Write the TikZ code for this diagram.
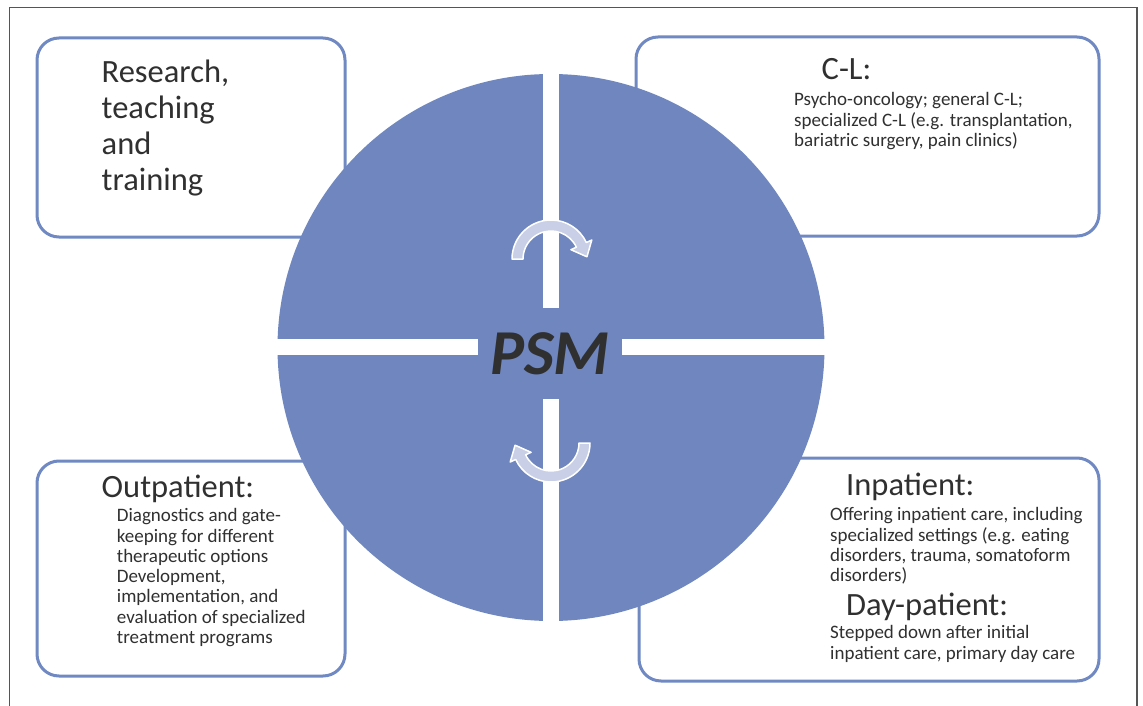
\documentclass[tikz,border=0pt]{standalone}
\usepackage{fontspec}
\setmainfont{Carlito}
\definecolor{circblue}{HTML}{6F86BF}
\definecolor{boxblue}{HTML}{7089C3}
\definecolor{arrowfill}{HTML}{C9CFE6}
\definecolor{txt}{HTML}{303030}
\definecolor{framegray}{HTML}{555555}
\begin{document}
\begin{tikzpicture}[x=1pt,y=-1pt,
  panel/.style={draw=boxblue, line width=3pt, rounded corners=22pt, fill=white, inner sep=0pt, outer sep=0pt},
  head/.style={font=\fontsize{32.5}{36}\selectfont, text=txt, align=left, anchor=base west, inner sep=0pt},
  body/.style={font=\fontsize{19}{20.3}\selectfont, text=txt, align=left, anchor=base west, inner sep=0pt},
  cyc/.style={fill=arrowfill, draw=white, line width=1.5pt, line join=round}]

\useasboundingbox (0,0) rectangle (1143,706);
\fill[white] (0,0) rectangle (1143,706);
\draw[framegray, line width=1.3pt] (9.5,706) -- (9.5,7.5) -- (1137,7.5) -- (1137,706);

% panels
\node[panel, minimum width=308, minimum height=199] (rtt) at (191,137.5) {};
\node[panel, minimum width=463, minimum height=199] (cl) at (867.5,136.5) {};
\node[panel, minimum width=308, minimum height=215] (out) at (191,568.5) {};
\node[panel, minimum width=460, minimum height=223] (inp) at (869,569.5) {};

% central circle with cross
\node[circle, fill=circblue, minimum size=547, inner sep=0pt] (psmcirc) at (551,347.5) {};
\fill[white] (543.2,70) rectangle (558.8,308);
\fill[white] (543.2,399) rectangle (558.8,625);
\fill[white] (273,339.3) rectangle (478.3,355);
\fill[white] (621.7,339.3) rectangle (829,355);

\node[font=\fontsize{64}{72}\selectfont\bfseries\itshape, text=txt, anchor=base, inner sep=0pt] (psm) at (550,374) {PSM};

% cycle arrows
\filldraw[cyc] ([shift={(551,259)}]180:39) arc[start angle=180, end angle=335, radius=39]
  -- ([shift={(551,259)}]335:45) -- ([shift={(551,259)}]356.5:36)
  -- ([shift={(551,259)}]335:22) -- ([shift={(551,259)}]335:28)
  arc[start angle=335, end angle=180, radius=28] -- cycle;
\filldraw[cyc] ([shift={(551,443)}]0:39) arc[start angle=0, end angle=155, radius=39]
  -- ([shift={(551,443)}]155:45) -- ([shift={(551,443)}]176.5:36)
  -- ([shift={(551,443)}]155:22) -- ([shift={(551,443)}]155:28)
  arc[start angle=155, end angle=0, radius=28] -- cycle;

% texts (base anchor = baseline of the last line)
\node[head] (rtt-t) at (101.5,190) {Research,\\teaching\\and\\training};
\node[head] (cl-t) at (821.5,80) {C-L:};
\node[body] (cl-b) at (794,146.5) {Psycho-oncology; general C-L;\\specialized C-L (e.g. transplantation,\\bariatric surgery, pain clinics)};
\node[head] (out-t) at (101.5,497) {Outpatient:};
\node[body] (out-b) at (116.7,643.5) {Diagnostics and gate-\\keeping for different\\therapeutic options\\Development,\\implementation, and\\evaluation of specialized\\treatment programs};
\node[head] (in-t) at (846,495) {Inpatient:};
\node[body] (in-b) at (830,581.6) {Offering inpatient care, including\\specialized settings (e.g. eating\\disorders, trauma, somatoform\\disorders)};
\node[head] (day-t) at (846,615) {Day-patient:};
\node[body] (day-b) at (830,659) {Stepped down after initial\\inpatient care, primary day care};
\end{tikzpicture}
\end{document}
